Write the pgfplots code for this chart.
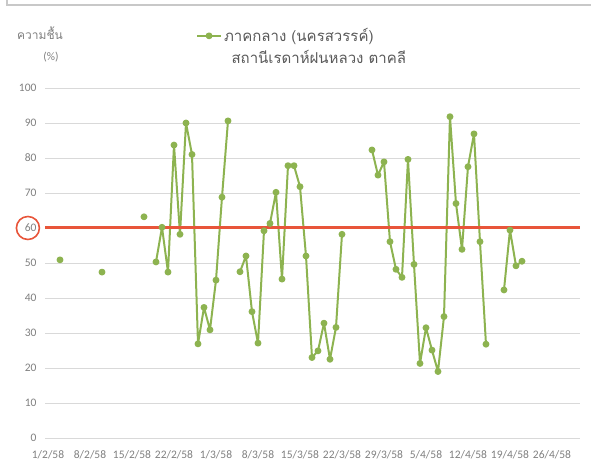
\documentclass[border=0pt]{standalone}
\usepackage{pgfplots}
\pgfplotsset{compat=1.18}
\usepackage{fontspec}
\setmainfont{Carlito}
\newfontfamily\thaifont[Script=Thai]{Loma}
\definecolor{ser}{HTML}{8DB350}
\definecolor{redl}{HTML}{E8553A}
\definecolor{txt}{HTML}{595959}
\definecolor{tickc}{HTML}{7F7F7F}
\definecolor{gridc}{HTML}{D9D9D9}
\definecolor{framec}{HTML}{C8C8C8}
\begin{document}
\begin{tikzpicture}[x=1pt,y=1pt]
\useasboundingbox (0,0) rectangle (591,470);
\draw[framec, line width=1.2pt] (7,470) -- (7,465) -- (591,465);
\begin{axis}[
  at={(45pt,32pt)}, anchor=south west,
  scale only axis, width=535pt, height=350pt,
  xmin=-0.5, xmax=88.67, ymin=0, ymax=100,
  axis line style={draw=none},
  major tick length=0pt,
  ytick={0,10,...,100},
  ymajorgrids=true, xmajorgrids=false,
  y grid style={draw=gridc, line width=0.8pt},
  xtick={0,7,...,84},
  xticklabels={1/2/58,8/2/58,15/2/58,22/2/58,1/3/58,8/3/58,15/3/58,22/3/58,29/3/58,5/4/58,12/4/58,19/4/58,26/4/58},
  /pgf/number format/assume math mode=true,
  tick label style={font=\fontsize{11.5}{13}\selectfont, text=tickc},
  xticklabel style={yshift=-9pt},
  yticklabel style={xshift=-5pt},
  unbounded coords=jump,
  clip=false,
  legend style={at={(0.282,1.149)}, anchor=west, draw=none, fill=none,
    font=\thaifont\fontsize{15}{17}\selectfont, text=txt, inner sep=0pt},
  legend image code/.code={\draw[mark repeat=2,mark phase=2,#1] plot coordinates {(0pt,0pt) (12pt,0pt) (24pt,0pt)};},
]
\addplot[ser, line width=2pt, line join=round, mark=*, mark size=2.4pt, mark options={fill=ser, draw=ser}] coordinates {
(2,50.9) (3,nan) (9,47.4) (10,nan) (16,63.2) (17,nan) (18,50.3) (19,60.2) (20,47.4) (21,83.7) (22,58.2) (23,90.0) (24,81.0) (25,26.9) (26,37.3) (27,30.9) (28,45.1) (29,68.8) (30,90.6) (31,nan) (32,47.5) (33,52.0) (34,36.1) (35,27.1) (36,59.2) (37,61.3) (38,70.2) (39,45.4) (40,77.8) (41,77.8) (42,71.8) (43,52.0) (44,23.0) (45,24.9) (46,32.8) (47,22.5) (48,31.6) (49,58.2) (50,nan) (54,82.3) (55,75.1) (56,78.9) (57,56.1) (58,48.2) (59,45.9) (60,79.6) (61,49.6) (62,21.3) (63,31.5) (64,25.1) (65,19.0) (66,34.7) (67,91.8) (68,67.0) (69,53.9) (70,77.5) (71,86.9) (72,56.1) (73,26.8) (74,nan) (76,42.3) (77,59.4) (78,49.2) (79,50.5)
};
\addlegendentry{ภาคกลาง (นครสวรรค์)}
\addplot[redl, line width=3pt, forget plot] coordinates {(-0.5,60) (88.67,60)};
\draw[redl, line width=1.6pt] (axis cs:-3.35,60) circle[radius=11.5pt];
\end{axis}
\node[font=\thaifont\fontsize{15}{17}\selectfont, text=txt, anchor=west] at (228,413) {สถานีเรดาห์ฝนหลวง ตาคลี};
\node[font=\thaifont\fontsize{12}{14}\selectfont, text=tickc] at (40,437) {ความชื้น};
\node[font=\fontsize{11.5}{13}\selectfont, text=tickc] at (51,413) {(\%)};
\end{tikzpicture}
\end{document}
